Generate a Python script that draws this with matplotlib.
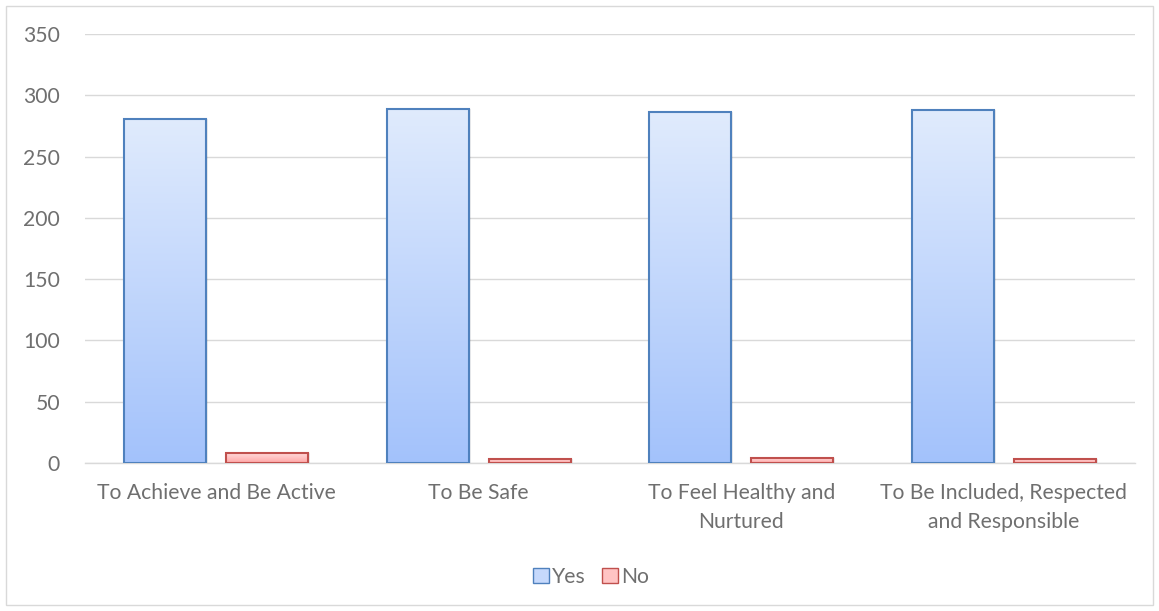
import matplotlib
matplotlib.use("Agg")
import matplotlib.pyplot as plt
import numpy as np
from matplotlib.patches import Rectangle, Patch
from matplotlib.colors import LinearSegmentedColormap

categories = ["To Achieve and Be Active", "To Be Safe",
              "To Feel Healthy and\nNurtured",
              "To Be Included, Respected\nand Responsible"]
yes_vals = [281, 289, 286, 288]
no_vals = [8, 3, 4, 3]
series = ["Yes", "No"]
yticks = [0, 50, 100, 150, 200, 250, 300, 350]

plt.rcParams['font.family'] = ['Lato', 'DejaVu Sans']
W, H = 1159, 611
fig = plt.figure(figsize=(W / 100, H / 100), dpi=100)
fig.patches.append(Rectangle((6 / W, 6 / H), 1 - 12 / W, 1 - 12 / H, transform=fig.transFigure,
                             fill=False, edgecolor="#d9d9d9", linewidth=1))
ax = fig.add_axes([85 / W, 1 - 463 / H, (1135 - 85) / W, (463 - 34) / H])

x = np.arange(len(categories))
bw = 0.312
off = 0.195
yes_bars = ax.bar(x - off, yes_vals, bw, color="none", edgecolor="#4f81bd", linewidth=1.5, zorder=3)
no_bars = ax.bar(x + off, no_vals, bw, color="none", edgecolor="#c0504d", linewidth=1.5, zorder=3)

cmap_yes = LinearSegmentedColormap.from_list("y", ["#a3c2fb", "#e0ebfd"])
cmap_no = LinearSegmentedColormap.from_list("n", ["#ffa6a6", "#ffd9d9"])
grad = np.linspace(0, 1, 256).reshape(-1, 1)
for bars, cm in ((yes_bars, cmap_yes), (no_bars, cmap_no)):
    for p in bars:
        x0, w, h = p.get_x(), p.get_width(), p.get_height()
        im = ax.imshow(grad, cmap=cm, origin="lower", aspect="auto",
                       extent=(x0, x0 + w, 0, h), zorder=2)
        im.set_clip_path(p)
        sh = Rectangle((x0 + 0.008, -0.5), w, h + 0.5, transform=ax.transData,
                       facecolor="#000000", alpha=0.08, edgecolor="none", zorder=1.5)
        ax.add_patch(sh)

ax.set_xlim(-0.5, len(categories) - 0.5)
ax.set_ylim(0, 350)
ax.set_yticks(yticks)
ax.set_xticks(x)
ax.set_xticklabels(categories, linespacing=1.55)
ax.tick_params(axis="both", length=0, labelsize=15.2, colors="#6f6f6f")
ax.tick_params(axis="x", pad=14.5)
ax.tick_params(axis="y", pad=18)
ax.grid(axis="y", color="#d9d9d9", linewidth=1, zorder=0)
ax.set_axisbelow(True)
for s in ["left", "right", "top"]:
    ax.spines[s].set_visible(False)
ax.spines["bottom"].set_color("#d9d9d9")
ax.spines["bottom"].set_linewidth(1)

handles = [Patch(facecolor="#c6d9fc", edgecolor="#4f81bd", label="Yes"),
           Patch(facecolor="#ffc4c4", edgecolor="#c0504d", label="No")]
fig.legend(handles=handles, loc="center", bbox_to_anchor=(591 / W, 1 - 577 / H), ncol=2,
           frameon=False, fontsize=15.2, labelcolor="#6f6f6f", handlelength=0.75,
           handleheight=0.75, handletextpad=0.15, columnspacing=0.8)

fig.savefig("out.png", dpi=100)
